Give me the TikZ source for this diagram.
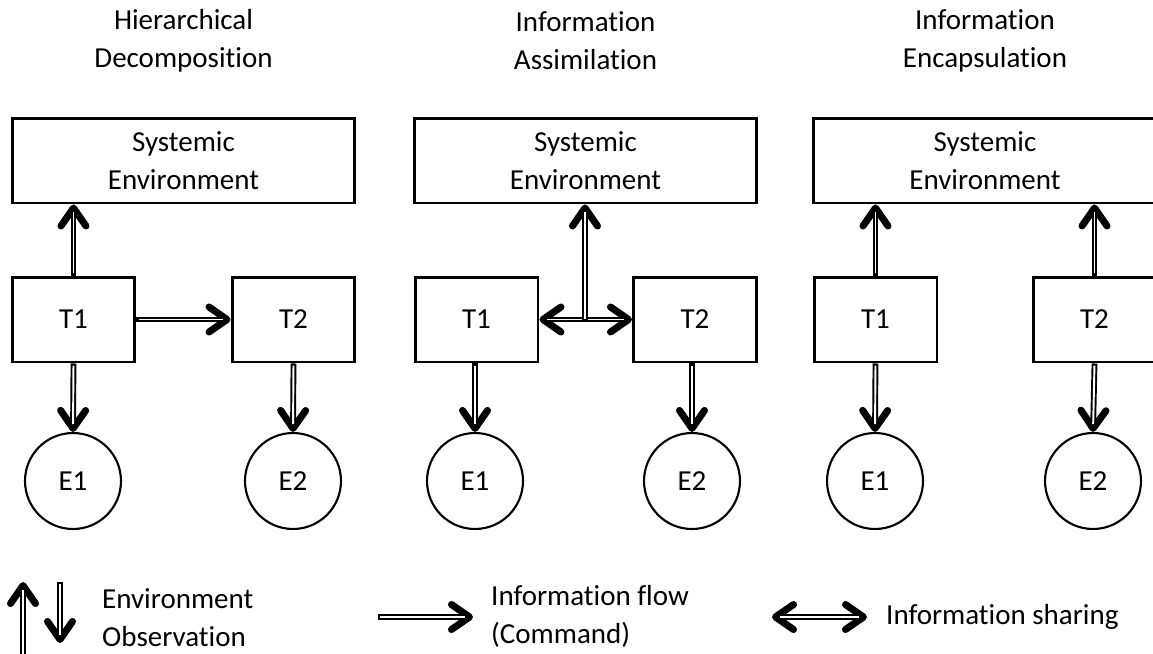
\documentclass[tikz,border=0pt]{standalone}
\usepackage{fontspec}
\setmainfont{Carlito}[Ligatures={NoCommon,NoContextual}]
\usetikzlibrary{arrows.meta}

\begin{document}
\begin{tikzpicture}[x=0.02cm,y=-0.02cm,font=\fontsize{16.5pt}{21.6pt}\selectfont]
\tikzstyle{box}=[draw=black,line width=1.7pt,minimum width=2.46cm,minimum height=1.7cm,inner sep=0pt,align=center]
\tikzstyle{sysbox}=[box,minimum width=6.86cm]
\tikzstyle{env}=[circle,draw=black,line width=1.2pt,minimum size=1.92cm,inner sep=0pt]
\tikzstyle{title}=[align=center]
\tikzstyle{hollow}=[postaction={draw=white,line width=1.1pt,-,shorten >=4.5pt,shorten <=1.2pt}]
\tikzstyle{flow}=[line width=3.3pt,-{Straight Barb[length=0.36cm,width=0.5cm,line width=4pt 0,round]},hollow]
\tikzstyle{share}=[line width=3.3pt,{Straight Barb[length=0.36cm,width=0.5cm,line width=4pt 0,round]}-{Straight Barb[length=0.36cm,width=0.5cm,line width=4pt 0,round]},postaction={draw=white,line width=1.1pt,-,shorten >=4.5pt,shorten <=4.5pt}]
\useasboundingbox (0,0) rectangle (1153,653);
% titles
\node[title] (h1) at (183.5,41) {Hierarchical\\Decomposition};
\node[title] (h2) at (585.5,41) {Information\\Assimilation};
\node[title] (h3) at (985,41) {Information\\Encapsulation};
% hierarchical decomposition
\node[sysbox] (se1) at (183.5,160.5) {Systemic\\Environment};
\node[box] (a1) at (73.5,319.5) {T1};
\node[box] (a2) at (293.5,319.5) {T2};
\node[env] (e11) at (73,481) {E1};
\node[env] (e12) at (293,481) {E2};
\draw[flow] (a1.north) -- (a1.north |- se1.south);
\draw[flow] (a1.east) -- (a2.west);
\draw[flow] (a1.south) -- (e11.north);
\draw[flow] (a2.south) -- (e12.north);
% information assimilation
\node[sysbox] (se2) at (585.5,160.5) {Systemic\\Environment};
\node[box] (b1) at (476.5,319.5) {T1};
\node[box] (b2) at (695,319.5) {T2};
\node[env] (e21) at (475,481) {E1};
\node[env] (e22) at (692,481) {E2};
\coordinate (mid) at (585,321);
\draw[share] (b1.east) -- (b2.west);
\draw[flow] (mid) -- (mid |- se2.south);
\draw[flow] (b1.south -| e21) -- (e21.north);
\draw[flow] (b2.south -| e22) -- (e22.north);
% information encapsulation
\node[sysbox] (se3) at (985,160.5) {Systemic\\Environment};
\node[box] (c1) at (875.5,319.5) {T1};
\node[box] (c2) at (1094.5,319.5) {T2};
\node[env] (e31) at (875,481) {E1};
\node[env] (e32) at (1093,481) {E2};
\draw[flow] (c1.north) -- (c1.north |- se3.south);
\draw[flow] (c2.north) -- (c2.north |- se3.south);
\draw[flow] (c1.south) -- (e31.north);
\draw[flow] (c2.south) -- (e32.north);
% legend
\coordinate (up0) at (23,662);
\coordinate (up1) at (23,582);
\coordinate (dn0) at (60,582);
\coordinate (dn1) at (60,643);
\draw[flow] (up0) -- (up1);
\draw[flow] (dn0) -- (dn1);
\node[anchor=west,align=left] (l1) at (96,618) {Environment\\Observation};
\coordinate (fl0) at (378,617);
\coordinate (fl1) at (473,617);
\draw[flow] (fl0) -- (fl1);
\node[anchor=west,align=left] (l2) at (485,616) {Information flow\\(Command)};
\coordinate (sh0) at (772,617);
\coordinate (sh1) at (867,617);
\draw[share] (sh0) -- (sh1);
\node[anchor=west] (l3) at (880,617) {Information sharing};
\end{tikzpicture}
\end{document}
